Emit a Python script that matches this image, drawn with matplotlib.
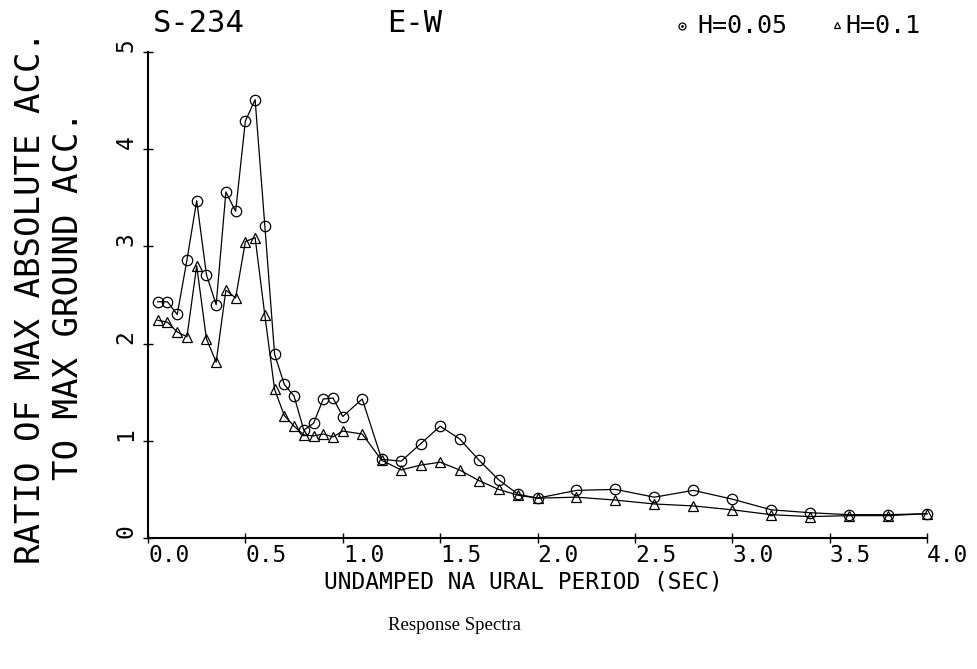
import matplotlib
matplotlib.use("Agg")
import matplotlib.pyplot as plt

# periodo (seg) y cocientes
period = [0.05, 0.10, 0.15, 0.20, 0.25, 0.30, 0.35, 0.40, 0.45, 0.50,
          0.55, 0.60, 0.65, 0.70, 0.75, 0.80, 0.85, 0.90, 0.95, 1.00,
          1.1, 1.2, 1.3, 1.4, 1.5, 1.6, 1.7, 1.8, 1.9, 2.0,
          2.2, 2.4, 2.6, 2.8, 3.0, 3.2, 3.4, 3.6, 3.8, 4.0]
ratio_h005 = [2.43, 2.43, 2.30, 2.86, 3.47, 2.71, 2.40, 3.56, 3.36, 4.29,
              4.51, 3.21, 1.89, 1.58, 1.46, 1.11, 1.18, 1.43, 1.44, 1.25,
              1.43, 0.81, 0.79, 0.97, 1.15, 1.02, 0.80, 0.60, 0.45, 0.41,
              0.49, 0.50, 0.42, 0.49, 0.40, 0.29, 0.26, 0.24, 0.24, 0.25]
ratio_h01 = [2.24, 2.22, 2.12, 2.07, 2.80, 2.05, 1.81, 2.55, 2.47, 3.05,
             3.09, 2.29, 1.53, 1.26, 1.15, 1.06, 1.05, 1.07, 1.04, 1.10,
             1.07, 0.80, 0.70, 0.75, 0.78, 0.70, 0.59, 0.50, 0.44, 0.41,
             0.42, 0.39, 0.35, 0.33, 0.29, 0.24, 0.22, 0.23, 0.23, 0.25]

x_ticks = [0.0, 0.5, 1.0, 1.5, 2.0, 2.5, 3.0, 3.5, 4.0]
x_ticklabels = ["0.0", "0.5", "1.0", "1.5", "2.0", "2.5", "3.0", "3.5", "4.0"]
y_ticks = [0, 1, 2, 3, 4, 5]

MONO = "DejaVu Sans Mono"
W, H = 977, 669

fig = plt.figure(figsize=(W / 100, H / 100), dpi=100)
ax = fig.add_axes([148 / W, 1 - 538 / H, 779 / W, 486 / H])

ax.plot(period, ratio_h005, color="black", lw=0.9, marker="o", ms=7.5,
        mfc="none", mec="black", mew=0.9, clip_on=False)
ax.plot(period, ratio_h01, color="black", lw=0.9, marker="^", ms=6.5,
        mfc="none", mec="black", mew=0.9, clip_on=False)

ax.set_xlim(0, 4.0)
ax.set_ylim(0, 5)
for s in ["top", "right"]:
    ax.spines[s].set_visible(False)
for s in ["left", "bottom"]:
    ax.spines[s].set_linewidth(1.5)

ax.set_xticks(x_ticks)
ax.set_xticklabels(x_ticklabels, fontfamily=MONO, fontsize=16.5)
for lab in ax.get_xticklabels():
    lab.set_horizontalalignment("left")
ax.set_yticks(y_ticks)
ax.set_yticklabels([str(v) for v in y_ticks], fontfamily=MONO, fontsize=16.5,
                   rotation=90)
for lab in ax.get_yticklabels():
    lab.set_verticalalignment("bottom")
    lab.set_horizontalalignment("right")
ax.tick_params(axis="both", direction="inout", length=7, width=1.0)
ax.tick_params(axis="x", pad=1)
ax.tick_params(axis="y", pad=4)

# titulos
fig.text(153 / W, 1 - 24 / H, "S-234", fontfamily=MONO, fontsize=22,
         ha="left", va="center")
fig.text(387 / W, 1 - 24 / H, "E-W", fontfamily=MONO, fontsize=22,
         ha="left", va="center")

# leyenda
fig.lines.append(plt.Line2D([682 / W], [1 - 26 / H], transform=fig.transFigure,
                            marker="o", ms=5, mfc="none", mec="black", mew=0.9))
fig.lines.append(plt.Line2D([682 / W], [1 - 26 / H], transform=fig.transFigure,
                            marker=".", ms=2, color="black"))
fig.text(697 / W, 1 - 26 / H, "H=0.05", fontfamily=MONO, fontsize=18,
         ha="left", va="center")
fig.lines.append(plt.Line2D([837 / W], [1 - 25 / H], transform=fig.transFigure,
                            marker="^", ms=5, mfc="none", mec="black", mew=0.9))
fig.text(845 / W, 1 - 26 / H, "H=0.1", fontfamily=MONO, fontsize=18,
         ha="left", va="center")

# etiquetas de ejes
fig.text(31 / W, 1 - 297 / H, "RATIO OF MAX ABSOLUTE ACC.", fontfamily=MONO,
         fontsize=24.5, rotation=90, ha="center", va="center")
fig.text(69 / W, 1 - 295 / H, "TO MAX GROUND ACC.", fontfamily=MONO,
         fontsize=24.5, rotation=90, ha="center", va="center")
fig.text(523 / W, 1 - 582 / H, "UNDAMPED NA URAL PERIOD (SEC)",
         fontfamily=MONO, fontsize=16.5, ha="center", va="center")
fig.text(454 / W, 1 - 626 / H, "Response Spectra", fontfamily="Liberation Serif",
         fontsize=13.5, ha="center", va="center")

fig.savefig("out.png", dpi=100, facecolor="white")
